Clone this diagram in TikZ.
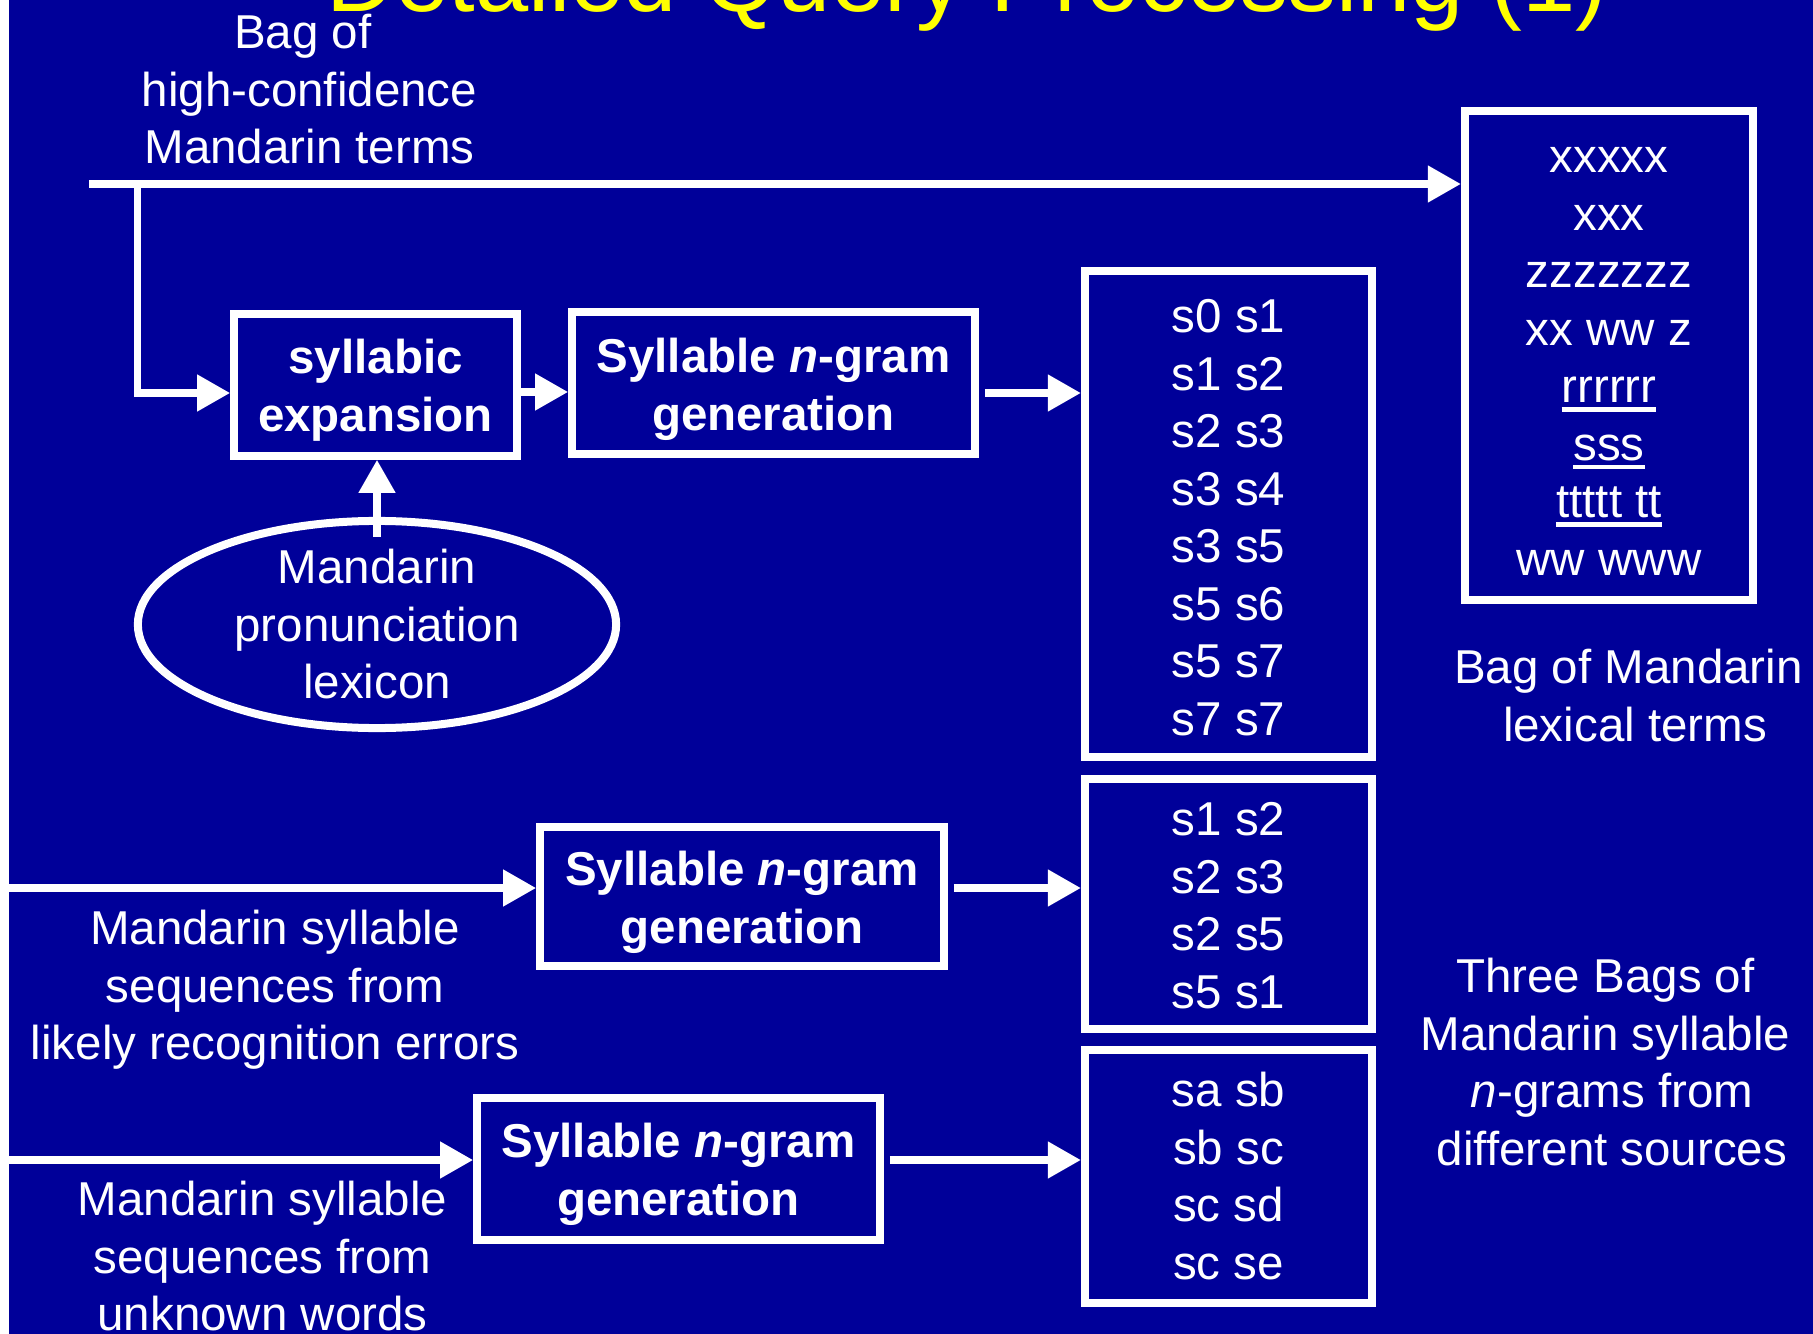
\documentclass[tikz,border=0pt]{standalone}
\usepackage{fontspec}
\setmainfont{Liberation Sans}
\usetikzlibrary{arrows.meta,shapes.geometric}

\definecolor{slideblue}{RGB}{0,0,153}
\definecolor{titleyellow}{RGB}{255,255,0}

% centred block of lines with fixed line pitch
\newcommand\stack[1]{\begin{tabular}{@{}c@{}}#1\end{tabular}}
% underlined term
\newcommand\ulword[1]{\setbox0\hbox{#1}\rlap{\rule[-2.6pt]{\wd0}{1.3pt}}\box0}
% trailing word space kept at the end of a line
\newcommand\trail{\kern3.75pt}

\tikzset{
  txt/.style={text=white, inner sep=0pt, font=\fontsize{13.51pt}{16.36pt}\selectfont},
  boldtxt/.style={text=white, inner sep=0pt, font=\fontsize{13.51pt}{16.36pt}\selectfont\bfseries},
  stagebox/.style={draw=white, line width=0.075cm, inner sep=0pt},
  bagbox/.style={draw=white, line width=0.08cm, inner sep=0pt},
  flow/.style={draw=white, line width=0.075cm, -{Triangle[length=0.33cm,width=0.35cm]}},
}

\begin{document}
\begin{tikzpicture}[x=0.01cm, y=-0.01cm]
\useasboundingbox (0,0) rectangle (1813,1334);
\clip (0,0) rectangle (1813,1334);
\fill[white] (0,0) rectangle (1813,1334);
\fill[slideblue] (9,0) rectangle (1813,1334);

% title
\node[anchor=base west, inner sep=0pt, text=titleyellow,
      font=\fontsize{27.2pt}{32pt}\selectfont] (title) at (325.5,12)
      {Detailed Query Processing (1)};

% processing stages
\node[stagebox, minimum width=2.83cm, minimum height=1.42cm] (syl) at (375.5,385) {};
\node[stagebox, minimum width=4.03cm, minimum height=1.42cm] (ng1) at (773.5,383) {};
\node[stagebox, minimum width=4.04cm, minimum height=1.39cm] (ng2) at (742,896.5) {};
\node[stagebox, minimum width=4.03cm, minimum height=1.42cm] (ng3) at (678.5,1169) {};
\node[ellipse, draw=white, line width=0.08cm, minimum width=4.78cm,
      minimum height=2.07cm, inner sep=0pt] (lexicon) at (377,624.5) {};

% bags
\node[bagbox, minimum width=2.88cm, minimum height=4.89cm] (lex) at (1609,355.5) {};
\node[bagbox, minimum width=2.87cm, minimum height=4.86cm] (sb1) at (1228.5,514) {};
\node[bagbox, minimum width=2.87cm, minimum height=2.50cm] (sb2) at (1228.5,904) {};
\node[bagbox, minimum width=2.87cm, minimum height=2.52cm] (sb3) at (1228.5,1176.5) {};

% texts
\node[txt, anchor=north] (srclabel) at (309.5,7.75)
  {\stack{Bag of\trail\\high-confidence\\Mandarin terms}};
\node[boldtxt, anchor=north] (syltext) at (375.5,332.75)
  {\stack{syllabic\\expansion}};
\node[boldtxt, anchor=north] (ng1text) at (773.5,331.75)
  {\stack{Syllable \textit{n}-gram\\generation}};
\node[txt, anchor=north] (sb1text) at (1228.5,291.5)
  {\stack{s0 s1\\s1 s2\\s2 s3\\s3 s4\\s3 s5\\s5 s6\\s5 s7\\s7 s7}};
\node[txt, anchor=north] (lextext) at (1609,131.5)
  {\stack{xxxxx\\xxx\\zzzzzzz\\xx ww z\\\ulword{rrrrrr}\\\ulword{sss}\\\ulword{ttttt tt}\\ww www}};
\node[txt, anchor=north] (lexicontext) at (377,542.75)
  {\stack{Mandarin\\pronunciation\\lexicon}};
\node[txt, anchor=north] (lexlabel) at (1635,642.75)
  {\stack{Bag of Mandarin\trail\\lexical terms}};
\node[boldtxt, anchor=north] (ng2text) at (742,844.75)
  {\stack{Syllable \textit{n}-gram\\generation}};
\node[txt, anchor=north] (errlabel) at (275,903.75)
  {\stack{Mandarin syllable\\sequences from\\likely recognition errors}};
\node[txt, anchor=north] (sb2text) at (1228.5,794.5)
  {\stack{s1 s2\\s2 s3\\s2 s5\\s5 s1}};
\node[txt, anchor=north] (ngramlabel) at (1612,951.5)
  {\stack{Three Bags of\trail\\Mandarin syllable\trail\\\textit{n}-grams from\\different sources}};
\node[boldtxt, anchor=north] (ng3text) at (678.5,1116.5)
  {\stack{Syllable \textit{n}-gram\\generation}};
\node[txt, anchor=north] (unklabel) at (262.6,1174.75)
  {\stack{Mandarin syllable\\sequences from\\unknown words}};
\node[txt, anchor=north] (sb3text) at (1228.5,1065.75)
  {\stack{sa sb\\sb sc\\sc sd\\sc se}};

% connectors
\coordinate (in1) at (89,184);
\coordinate (fork) at (137.5,184);
\coordinate (row1) at (0,393);
\coordinate (in2) at (9,888);
\coordinate (in3) at (9,1160);

\draw[flow] (in1) -- (in1 -| lex.west);
\draw[flow] (fork) |- (syl.west |- row1);
\draw[flow] (syl.east |- 0,392) -- (ng1.west |- 0,392);
\draw[flow, shorten <=0.06cm] (ng1.east |- row1) -- (sb1.west |- row1);
\draw[flow] ([yshift=-0.2cm]lexicon.north) -- (lexicon.north |- syl.south);

\draw[flow] (in2) -- (in2 -| ng2.west);
\draw[flow, shorten <=0.06cm] (ng2.east |- in2) -- (sb2.west |- in2);

\draw[flow] (in3) -- (in3 -| ng3.west);
\draw[flow, shorten <=0.06cm] (ng3.east |- in3) -- (sb3.west |- in3);
\end{tikzpicture}
\end{document}
